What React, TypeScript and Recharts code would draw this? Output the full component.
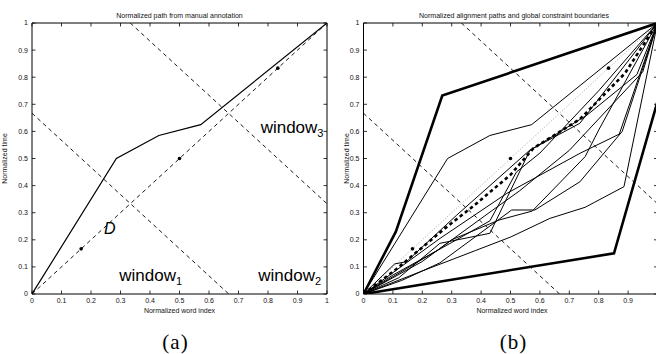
import React from 'react';
import { LineChart, Line, XAxis, YAxis, ReferenceDot } from 'recharts';

// ---------- data ----------
const tickValues = [0, 0.1, 0.2, 0.3, 0.4, 0.5, 0.6, 0.7, 0.8, 0.9, 1];
const tickLabels = ['0', '0.1', '0.2', '0.3', '0.4', '0.5', '0.6', '0.7', '0.8', '0.9', '1'];

const manualPath: [number, number][] = [[0, 0], [0.286, 0.5], [0.43, 0.585], [0.572, 0.625], [1, 1]];
const diagonal: [number, number][] = [[0, 0], [1, 1]];
const windowBoundary1: [number, number][] = [[0, 0.667], [0.667, 0]];
const windowBoundary2: [number, number][] = [[0.333, 1], [1, 0.333]];
const annotatedPoints: [number, number][] = [[1 / 6, 1 / 6], [0.5, 0.5], [5 / 6, 5 / 6]];

const upperBoundary: [number, number][] = [[0, 0], [0.11, 0.23], [0.268, 0.732], [1, 1]];
const lowerBoundary: [number, number][] = [[0, 0], [0.852, 0.15], [1, 0.71], [1, 1]];
const meanPath: [number, number][] = [[0, 0], [0.112, 0.092], [0.27, 0.236], [0.38, 0.33], [0.5, 0.44], [0.578, 0.538], [0.736, 0.645], [0.889, 0.814], [1, 1]];

const alignPath1: [number, number][] = [[0, 0], [0.106, 0.111], [0.146, 0.119], [0.316, 0.29], [0.566, 0.531], [0.736, 0.63], [1, 1]];
const alignPath2: [number, number][] = [[0, 0], [0.12, 0.06], [0.26, 0.187], [0.43, 0.224], [0.566, 0.53], [0.76, 0.66], [0.93, 0.81], [1, 1]];
const alignPath3: [number, number][] = [[0, 0], [0.2, 0.12], [0.3, 0.2], [0.461, 0.273], [0.574, 0.306], [0.754, 0.507], [0.8, 0.605], [1, 1]];
const alignPath4: [number, number][] = [[0, 0], [0.13, 0.05], [0.26, 0.115], [0.504, 0.31], [0.583, 0.31], [0.736, 0.414], [0.88, 0.6], [1, 1]];
const alignPath5: [number, number][] = [[0, 0], [0.2, 0.085], [0.38, 0.16], [0.5, 0.21], [0.634, 0.279], [0.754, 0.32], [0.886, 0.396], [1, 1]];
const alignPath6: [number, number][] = [[0, 0], [0.26, 0.205], [0.487, 0.371], [0.736, 0.519], [0.87, 0.59], [1, 1]];
const alignPath7: [number, number][] = [[0, 0], [0.1, 0.07], [0.3, 0.19], [0.43, 0.27], [0.52, 0.45], [0.6, 0.52], [0.8, 0.75], [1, 1]];
const alignPath8: [number, number][] = [[0, 0], [0.25, 0.16], [0.44, 0.31], [0.53, 0.38], [0.7, 0.53], [0.95, 0.82], [1, 1]];
const alignPaths = [alignPath1, alignPath2, alignPath3, alignPath4, alignPath5, alignPath6, alignPath7, alignPath8];

const windowLabels = [
  { x: 0.296, y: 0.048, text: 'window', sub: '1' },
  { x: 0.767, y: 0.048, text: 'window', sub: '2' },
  { x: 0.775, y: 0.594, text: 'window', sub: '3' },
];
const diagLabel = { x: 0.244, y: 0.221, text: 'D' };

// ---------- helpers ----------
const toXY = (pts: [number, number][]) => pts.map(([x, y]) => ({ x, y }));
const FONT = "'Liberation Sans', Arial, Helvetica, sans-serif";
const SERIF = "'Liberation Serif', 'Times New Roman', Times, serif";
const tickStyle = { fontSize: 7, fill: '#111', fontFamily: FONT };
const fmt = (v: number) => {
  const i = tickValues.findIndex((t) => Math.abs(t - v) < 1e-9);
  return i >= 0 ? tickLabels[i] : String(v);
};
// panel (b) is cropped at the right edge, so its last x label is not visible
const fmtCropped = (v: number) => (v >= 1 ? '' : fmt(v));

const AX_H = 30; // bottom axis height
const AX_W = 30; // left axis width
const AX_T = 5; // top axis height
const AX_R = 5; // right axis width

function frameAxes(xFmt: (v: number) => string) {
  const line = { stroke: '#000', strokeWidth: 1 };
  const tl = { stroke: '#000', strokeWidth: 0.8 };
  return [
    <XAxis key="xb" xAxisId={0} dataKey="x" type="number" domain={[0, 1]} ticks={tickValues}
      tickFormatter={xFmt} allowDataOverflow height={AX_H} tickSize={-3.5} tickMargin={8} interval={0}
      axisLine={line} tickLine={tl} tick={tickStyle} />,
    <XAxis key="xt" xAxisId="top" orientation="top" dataKey="x" type="number" domain={[0, 1]} ticks={tickValues}
      tickFormatter={() => ''} allowDataOverflow height={AX_T} tickSize={-3.5} tickMargin={0} interval={0}
      axisLine={line} tickLine={tl} tick={tickStyle} />,
    <YAxis key="yl" yAxisId={0} dataKey="y" type="number" domain={[0, 1]} ticks={tickValues}
      tickFormatter={fmt} allowDataOverflow width={AX_W} tickSize={-3.5} tickMargin={7.5} interval={0}
      axisLine={line} tickLine={tl} tick={tickStyle} />,
    <YAxis key="yr" yAxisId="right" orientation="right" dataKey="y" type="number" domain={[0, 1]} ticks={tickValues}
      tickFormatter={() => ''} allowDataOverflow width={AX_R} tickSize={-3.5} tickMargin={0} interval={0}
      axisLine={line} tickLine={tl} tick={tickStyle} />,
  ];
}

const marginFor = (left: number, top: number, right: number, bottom: number, w: number, h: number) => ({
  left: left - AX_W,
  top: top - AX_T,
  right: w - right - AX_R,
  bottom: h - bottom - AX_H,
});

const lineCommon = { dataKey: 'y', dot: false, activeDot: false, isAnimationActive: false, type: 'linear' as const };
const thin = { stroke: '#000', strokeWidth: 1 };
const thinDashed = { stroke: '#000', strokeWidth: 0.9, strokeDasharray: '4 3.5' };

const dotLine = (key: string) => (
  <Line key={key} data={toXY(annotatedPoints)} dataKey="y" stroke="none" isAnimationActive={false} activeDot={false}
    dot={{ r: 1.8, fill: '#000', stroke: '#000', strokeWidth: 0 }} />
);

const CW = 340;
const CH = 330;

export default function App() {
  return (
    <div style={{ position: 'absolute', left: 0, top: 0, width: 656, height: 354, overflow: 'hidden', background: '#fff' }}>
      {/* panel (a) */}
      <div style={{ position: 'absolute', left: 0, top: 0 }}>
        <LineChart width={CW} height={CH} margin={marginFor(32, 23, 327, 294, CW, CH)}>
          {frameAxes(fmt)}
          <Line {...lineCommon} data={toXY(windowBoundary1)} {...thinDashed} />
          <Line {...lineCommon} data={toXY(windowBoundary2)} {...thinDashed} />
          <Line {...lineCommon} data={toXY(diagonal)} {...thinDashed} />
          <Line {...lineCommon} data={toXY(manualPath)} stroke="#000" strokeWidth={1.2} />
          {dotLine('dotsA')}
          {windowLabels.map((w, i) => (
            <ReferenceDot key={'w' + i} x={w.x} y={w.y} r={0}
              shape={(p: any) => (
                <text x={p.cx} y={p.cy} fontSize={17} fontFamily={FONT} fill="#000">
                  {w.text}
                  <tspan fontSize={11} dy={4}>{w.sub}</tspan>
                </text>
              )} />
          ))}
          <ReferenceDot x={diagLabel.x} y={diagLabel.y} r={0}
            shape={(p: any) => (
              <text x={p.cx} y={p.cy} fontSize={16} fontStyle="italic" fontFamily={FONT} fill="#000">{diagLabel.text}</text>
            )} />
        </LineChart>
      </div>

      {/* panel (b) */}
      <div style={{ position: 'absolute', left: 330, top: 0 }}>
        <LineChart width={CW} height={CH} margin={marginFor(33.5, 23, 327.5, 294, CW, CH)}>
          {frameAxes(fmtCropped)}
          <Line {...lineCommon} data={toXY(windowBoundary1)} {...thinDashed} />
          <Line {...lineCommon} data={toXY(windowBoundary2)} {...thinDashed} />
          <Line {...lineCommon} data={toXY(diagonal)} stroke="#999" strokeWidth={0.9} strokeDasharray="1 2" />
          {alignPaths.map((p, i) => (
            <Line key={'ap' + i} {...lineCommon} data={toXY(p)} {...thin} />
          ))}
          <Line {...lineCommon} data={toXY(manualPath)} {...thin} />
          <Line {...lineCommon} data={toXY(meanPath)} stroke="#000" strokeWidth={2.6} strokeDasharray="3.5 3" />
          <Line {...lineCommon} data={toXY(upperBoundary)} stroke="#000" strokeWidth={2.6} />
          <Line {...lineCommon} data={toXY(lowerBoundary)} stroke="#000" strokeWidth={2.6} />
          {dotLine('dotsB')}
        </LineChart>
      </div>

      {/* titles, axis labels, captions */}
      <svg width={656} height={354} style={{ position: 'absolute', left: 0, top: 0, pointerEvents: 'none' }}>
        <text x={179.5} y={17.5} textAnchor="middle" fontSize={7} fontFamily={FONT} fill="#111">Normalized path from manual annotation</text>
        <text x={179.5} y={312.5} textAnchor="middle" fontSize={7} fontFamily={FONT} fill="#111">Normalized word index</text>
        <text transform="translate(6.5,158.5) rotate(-90)" textAnchor="middle" fontSize={7} fontFamily={FONT} fill="#111">Normalized time</text>
        <text x={175.5} y={348.5} textAnchor="middle" fontSize={21} fontFamily={SERIF} fill="#000" letterSpacing={1}>(a)</text>

        <text x={514} y={17.5} textAnchor="middle" fontSize={7} fontFamily={FONT} fill="#111">Normalized alignment paths and global constraint boundaries</text>
        <text x={512} y={312.5} textAnchor="middle" fontSize={7} fontFamily={FONT} fill="#111">Normalized word index</text>
        <text transform="translate(349,158.5) rotate(-90)" textAnchor="middle" fontSize={7} fontFamily={FONT} fill="#111">Normalized time</text>
        <text x={513.5} y={348.5} textAnchor="middle" fontSize={21} fontFamily={SERIF} fill="#000" letterSpacing={1}>(b)</text>
      </svg>
    </div>
  );
}
